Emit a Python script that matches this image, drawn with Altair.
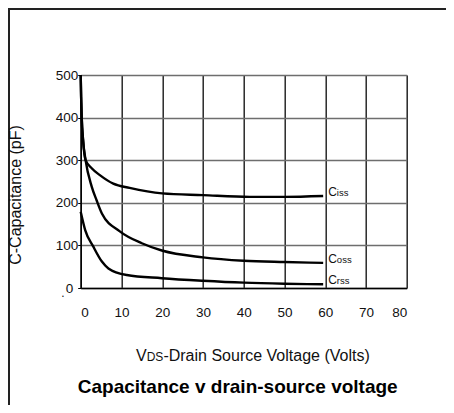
import altair as alt
import pandas as pd

# --- data ---
ciss_v = [0, 0.1, 0.25, 0.56, 1.2, 2.7, 4.7, 8, 12, 20, 30, 41.5, 50, 59.5]
ciss_c = [500, 450, 400, 350, 300, 281, 265, 245, 235, 222, 218, 214, 214, 216]
coss_v = [0, 0.1, 0.25, 0.56, 1.2, 2.7, 3.9, 5.2, 9.6, 15, 19.9, 30, 40, 50, 59.5]
coss_c = [500, 450, 400, 350, 300, 238, 206, 175, 133, 105, 88, 72, 64, 61, 59]
crss_v = [0, 1.1, 3.1, 5.2, 6.8, 11.3, 19.9, 30, 40, 50, 59.5]
crss_c = [179, 136, 97, 62, 46, 30.5, 23, 17, 12.5, 10, 8.7]

x_ticks = [0, 10, 20, 30, 40, 50, 60, 70, 80]
y_grid = [0, 50, 100, 150, 200, 250, 300, 350, 400, 450, 500]

series_names = ["Ciss", "Coss", "Crss"]
label_main = ["C", "C", "C"]
label_sub = ["iss", "oss", "rss"]

FONT = "Liberation Sans"

rows = []
for name, vs, cs in [("Ciss", ciss_v, ciss_c), ("Coss", coss_v, coss_c), ("Crss", crss_v, crss_c)]:
    for v, c in zip(vs, cs):
        rows.append({"series": name, "v": v, "c": c})
df = pd.DataFrame(rows)

ends = pd.DataFrame({
    "series": series_names,
    "v": [ciss_v[-1], coss_v[-1], crss_v[-1]],
    "c": [ciss_c[-1], coss_c[-1], crss_c[-1]],
    "main": label_main,
    "sub": label_sub,
})

W, H = 326, 213
PL, PT = 72.7, 67
PR = 454 - 16 - PL - W
PB = 413 - 16 - PT - H

xs = alt.Scale(domain=[0, 80], nice=False)
ys = alt.Scale(domain=[0, 500], nice=False)

x_axis = alt.Axis(values=x_ticks, grid=True, gridColor="#1a1a1a", gridWidth=1.4,
                  domainColor="#000", domainWidth=1.5, ticks=False, labelPadding=17,
                  labelFontSize=13.5, labelFont=FONT, labelColor="#111", title=None)
y_axis = alt.Axis(values=y_grid, grid=True, gridColor="#6e6e6e", gridWidth=1.6,
                  domainColor="#000", domainWidth=1.5, ticks=True, tickSize=3, tickColor="#000",
                  labelPadding=0, labelFontSize=13.5, labelFont=FONT, labelColor="#111",
                  labelExpr="datum.value % 100 == 0 && datum.value > 0 ? datum.label : ''",
                  title=None)

lines = alt.Chart(df).mark_line(color="black", strokeWidth=2.4, interpolate="monotone").encode(
    x=alt.X("v:Q", scale=xs, axis=x_axis),
    y=alt.Y("c:Q", scale=ys, axis=y_axis),
    detail="series:N",
)

lab_main = alt.Chart(ends).mark_text(align="left", baseline="alphabetic", dx=5, fontSize=12,
                                     font=FONT, color="#111").encode(
    x=alt.X("v:Q", scale=xs), y=alt.Y("c:Q", scale=ys), text="main:N",
    yOffset=alt.YOffset("series:N", scale=alt.Scale(domain=series_names, range=[6, 1, 0])),
)
lab_sub = alt.Chart(ends).mark_text(align="left", baseline="alphabetic", dx=13.7, fontSize=9.5,
                                    font=FONT, color="#111").encode(
    x=alt.X("v:Q", scale=xs), y=alt.Y("c:Q", scale=ys), text="sub:N",
    yOffset=alt.YOffset("series:N", scale=alt.Scale(domain=series_names, range=[6, 1, 0])),
)

base = alt.Chart(pd.DataFrame({"k": [0]}))

# zero label of the y axis sits a little further left in the reference
zero_lbl = base.mark_text(text="0", align="right", baseline="middle", fontSize=13.5, font=FONT,
                          color="#111").encode(x=alt.value(-7.5), y=alt.value(H + 1))
dot_lbl = base.mark_text(text=".", align="center", baseline="alphabetic", fontSize=12, font=FONT,
                         color="#111").encode(x=alt.value(-17.7), y=alt.value(H + 9))

top_line = base.mark_rule(color="#222", strokeWidth=2).encode(
    x=alt.value(-PL), x2=alt.value(W + PR), y=alt.value(-PT + 1))
left_line = base.mark_rule(color="#222", strokeWidth=2).encode(
    x=alt.value(-PL + 1), y=alt.value(-PT), y2=alt.value(H + PB))

ytitle = base.mark_text(text="C-Capacitance (pF)", angle=270, align="center", baseline="middle",
                        fontSize=16, font=FONT, color="#111").encode(
    x=alt.value(-64.7), y=alt.value(120))

xt1 = base.mark_text(text="V", align="left", baseline="alphabetic", fontSize=16, font=FONT,
                     color="#111").encode(x=alt.value(55.3), y=alt.value(285.7))
xt2 = base.mark_text(text="DS", align="left", baseline="alphabetic", fontSize=12, font=FONT,
                     color="#111").encode(x=alt.value(66.0), y=alt.value(285.7))
xt3 = base.mark_text(text="-Drain Source Voltage (Volts)", align="left", baseline="alphabetic",
                     fontSize=16, font=FONT, color="#111").encode(x=alt.value(82.7), y=alt.value(285.7))

title = base.mark_text(text="Capacitance v drain-source voltage", align="center",
                       baseline="alphabetic", fontSize=19, fontWeight="bold", font=FONT,
                       color="#000").encode(x=alt.value(157), y=alt.value(317.7))

chart = alt.layer(lines, lab_main, lab_sub, zero_lbl, dot_lbl, top_line, left_line, ytitle,
                  xt1, xt2, xt3, title).properties(
    width=W, height=H,
    autosize=alt.AutoSizeParams(type="none"),
    padding={"left": PL, "top": PT, "right": PR, "bottom": PB},
).configure_view(stroke=None).configure(background="white")

chart.save("out.html", embed_options={"renderer": "svg", "actions": False})
